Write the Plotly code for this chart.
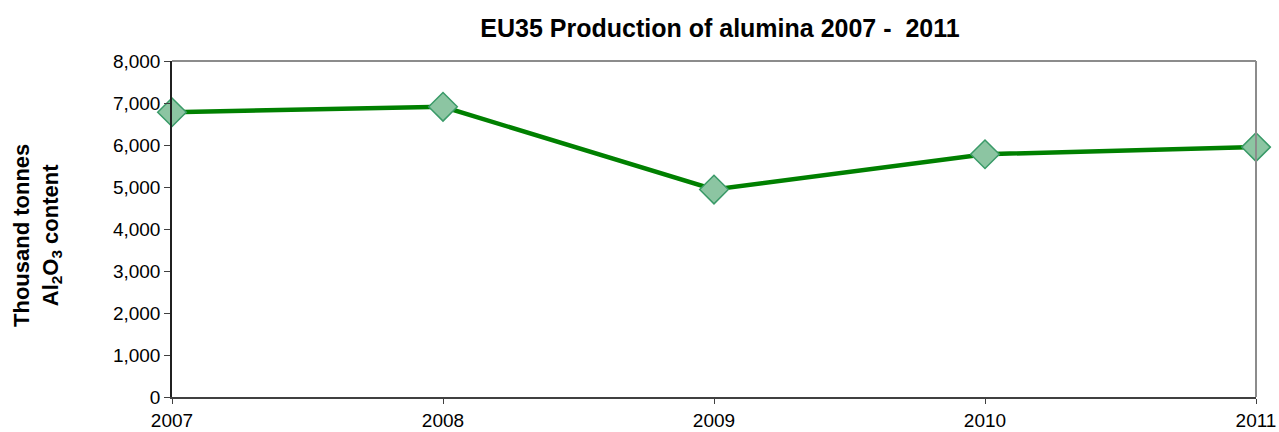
import plotly.graph_objects as go

years = [2007, 2008, 2009, 2010, 2011]
production = [6780, 6910, 4940, 5780, 5950]
y_ticks = [0, 1000, 2000, 3000, 4000, 5000, 6000, 7000, 8000]

L, R, T, B = 172, 1256, 61, 397
W, H = 1279, 432

fig = go.Figure()
fig.add_trace(go.Scatter(
    x=years, y=production, mode="lines+markers",
    line=dict(color="#008000", width=4.5),
    marker=dict(symbol="diamond", size=22, color="#8cc5a2",
                line=dict(color="#3a9a68", width=1.5)),
    cliponaxis=False, showlegend=False,
))

font = "Liberation Sans, Arial, sans-serif"
pw, ph = R - L, B - T
fig.update_layout(
    width=W, height=H,
    margin=dict(l=L, r=W - R, t=T, b=H - B, autoexpand=False),
    paper_bgcolor="white", plot_bgcolor="white",
    font=dict(family=font, color="black", size=19),
    title=dict(text="<b>EU35 Production of alumina 2007 -  2011</b>",
               x=720 / W, xanchor="center",
               y=1 - 28 / H, yanchor="middle",
               font=dict(size=25, family=font)),
    xaxis=dict(range=[2007, 2011], tickvals=years, ticktext=[str(y) for y in years],
               showgrid=False, zeroline=False, showline=True, linecolor="#404040",
               linewidth=2, ticks="outside", ticklen=5, tickcolor="#404040",
               automargin=False, tickfont=dict(size=19)),
    yaxis=dict(range=[0, 8000], tickvals=y_ticks,
               ticktext=[f"{v:,}" for v in y_ticks],
               showgrid=False, zeroline=False, showline=True, linecolor="#202020",
               linewidth=1.5, ticks="outside", ticklen=6, tickcolor="#404040",
               automargin=False, tickfont=dict(size=19)),
    annotations=[
        dict(text="<b>Thousand tonnes<br>Al<sub>2</sub>O<sub>3</sub> content</b>",
             xref="paper", yref="paper", x=(37 - L) / pw, y=(B - 236) / ph,
             xanchor="center", yanchor="middle", textangle=-90,
             showarrow=False, font=dict(size=22, family=font)),
    ],
    shapes=[
        dict(type="line", xref="paper", yref="paper", x0=0, x1=1, y0=1, y1=1,
             line=dict(color="#8c8c8c", width=2)),
        dict(type="line", xref="paper", yref="paper", x0=1, x1=1, y0=0, y1=1,
             line=dict(color="#8c8c8c", width=2)),
    ],
)
fig.write_html("out.html", config={"displayModeBar": False},
               post_script="document.body.style.margin='0';")
